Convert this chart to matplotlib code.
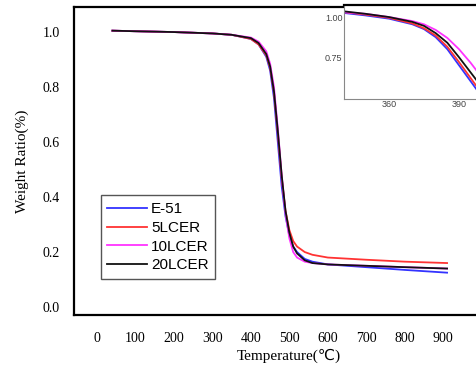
import matplotlib
matplotlib.use("Agg")
import matplotlib.pyplot as plt

plt.rcParams['font.family'] = ['Liberation Serif', 'DejaVu Sans']

# main TGA curves
temp = [40, 100, 200, 300, 350, 400, 420, 440, 450, 460, 470, 480, 490, 500,
        510, 520, 540, 560, 600, 700, 800, 910]
e51 = [1.005, 1.003, 1.0, 0.995, 0.99, 0.975, 0.955, 0.91, 0.86, 0.76, 0.6, 0.44,
       0.33, 0.26, 0.22, 0.2, 0.175, 0.165, 0.155, 0.145, 0.135, 0.125]
lcer5 = [1.005, 1.003, 1.0, 0.995, 0.99, 0.975, 0.955, 0.915, 0.87, 0.78, 0.63, 0.47,
         0.35, 0.28, 0.24, 0.22, 0.2, 0.19, 0.18, 0.172, 0.165, 0.16]
lcer10 = [1.005, 1.003, 1.0, 0.995, 0.99, 0.98, 0.965, 0.93, 0.885, 0.8, 0.65, 0.48,
          0.34, 0.25, 0.2, 0.18, 0.165, 0.16, 0.155, 0.15, 0.145, 0.14]
lcer20 = [1.005, 1.003, 1.0, 0.995, 0.99, 0.978, 0.96, 0.92, 0.875, 0.785, 0.64, 0.48,
          0.35, 0.27, 0.22, 0.195, 0.17, 0.16, 0.155, 0.15, 0.145, 0.14]

# zoomed inset
temp_in = [341, 350, 360, 370, 375, 380, 385, 390, 395, 400]
e51_in = [1.025, 1.01, 0.99, 0.955, 0.925, 0.875, 0.80, 0.70, 0.60, 0.50]
lcer5_in = [1.03, 1.015, 0.995, 0.96, 0.93, 0.885, 0.815, 0.72, 0.62, 0.52]
lcer10_in = [1.03, 1.02, 1.0, 0.975, 0.955, 0.92, 0.87, 0.80, 0.715, 0.62]
lcer20_in = [1.035, 1.02, 1.0, 0.97, 0.945, 0.9, 0.84, 0.75, 0.655, 0.56]

labels = ['E-51', '5LCER', '10LCER', '20LCER']
colors = ['#3333ff', '#ff3333', '#ff33ff', '#111111']

fig = plt.figure(figsize=(4.77, 3.70), dpi=100)
ax = fig.add_axes([0.155, 0.1486, 0.9, 0.8324])
for y, lab, c in zip([e51, lcer5, lcer10, lcer20], labels, colors):
    ax.plot(temp, y, color=c, lw=1.3, label=lab)

ax.set_xlim(-60, 1056)
ax.set_ylim(-0.029, 1.091)
ax.set_xticks(range(0, 1000, 100))
ax.set_yticks([0.0, 0.2, 0.4, 0.6, 0.8, 1.0])
ax.set_yticklabels(['0.0', '0.2', '0.4', '0.6', '0.8', '1.0'])
ax.tick_params(length=0, labelsize=10, pad=10)
ax.tick_params(axis='x', pad=12)
for s in ['top', 'left', 'bottom']:
    ax.spines[s].set_linewidth(1.6)
ax.spines['right'].set_visible(False)
ax.set_xlabel('Temperature(℃)', fontsize=11, labelpad=3)
ax.set_ylabel('Weight Ratio(%)', fontsize=11, labelpad=10)

leg = ax.legend(loc='lower left', bbox_to_anchor=(0.062, 0.117), fancybox=False,
                edgecolor='#555555', framealpha=1, handlelength=2.6,
                handletextpad=0.25, labelspacing=0.3, borderpad=0.45,
                borderaxespad=0,
                prop={'family': 'Liberation Sans', 'size': 11})
leg.get_frame().set_linewidth(1.0)

ins = fig.add_axes([0.721, 0.7324, 0.3, 0.2541])
for y, c in zip([e51_in, lcer5_in, lcer10_in, lcer20_in], colors):
    ins.plot(temp_in, y, color=c, lw=1.3)
ins.set_xlim(340.7, 402)
ins.set_ylim(0.49, 1.075)
ins.set_xticks([360, 390])
ins.set_yticks([0.75, 1.00])
ins.set_yticklabels(['0.75', '1.00'])
ins.tick_params(length=0, labelsize=6.5, pad=1, colors='#444444',
                labelfontfamily='Liberation Sans')
ins.spines['top'].set_linewidth(1.6)
ins.spines['top'].set_color('black')
for s in ['left', 'bottom']:
    ins.spines[s].set_color('#888888')
    ins.spines[s].set_linewidth(0.8)
ins.spines['right'].set_visible(False)

fig.savefig('out.png', dpi=100)
